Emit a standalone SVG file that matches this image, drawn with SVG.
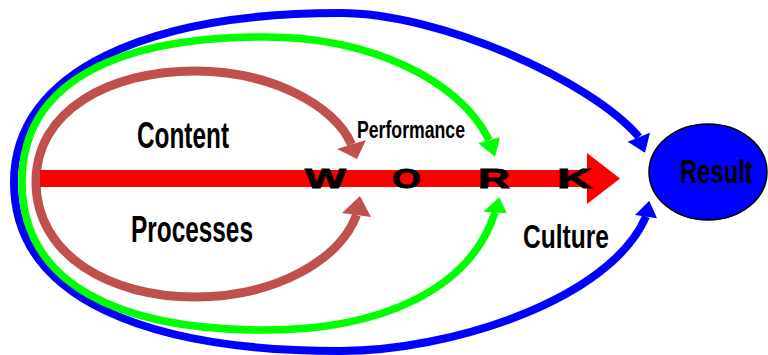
<svg xmlns="http://www.w3.org/2000/svg" width="768" height="355" viewBox="0 0 768 355">
<style>
.lbl{font-family:"Liberation Sans",Arial,sans-serif;font-weight:bold;fill:#000}
.work{font-family:"Liberation Sans",Arial,sans-serif;font-weight:900;fill:#000;stroke:#000;stroke-width:0.9;font-size:27.5px}
.loop{fill:none}
</style>
<rect width="768" height="355" fill="#fff"/>
<g id="connectors">
<path class="loop" stroke="#0000FF" stroke-width="8" d="M639,137 C590,80 440,13 340,13 C150,13 14,70 14,182 C14,300 150,351 340,351 C450,351 610,300 646,216.5"/>
<polygon fill="#0000FF" points="627.7,141.7 650,132.7 645,152.7"/>
<polygon fill="#0000FF" points="635,215 657,218.3 649.3,200.7"/>
<path class="loop" stroke="#00FF00" stroke-width="7.5" d="M489,140 C460,80 370,37 265,37 C120,37 22,80 22,182 C22,285 120,330 265,330 C380,330 470,290 495,212.5"/>
<polygon fill="#00FF00" points="478.3,143.3 500,137.3 495,156.7"/>
<polygon fill="#00FF00" points="483.3,211.7 506.7,213.3 499.3,197.3"/>
<path class="loop" stroke="#C0504D" stroke-width="9" d="M351.5,144.5 C335,105 270,71 195,71 C110,71 36,110 36,182 C36,255 110,297 195,297 C275,297 340,260 356.5,215"/>
<polygon fill="#C0504D" points="337,149 366,140 357,159"/>
<polygon fill="#C0504D" points="342,213 371,217 360,196"/>
</g>
<g id="work">
<polygon fill="#FF0000" points="40,170 587,170 587,153 620,178.5 587,204 587,187 40,187"/>
<text class="work" x="305" y="188" textLength="41" lengthAdjust="spacingAndGlyphs">W</text>
<text class="work" x="392" y="188" textLength="29" lengthAdjust="spacingAndGlyphs">O</text>
<text class="work" x="478" y="188" textLength="32" lengthAdjust="spacingAndGlyphs">R</text>
<text class="work" x="557" y="188" textLength="35" lengthAdjust="spacingAndGlyphs">K</text>
</g>
<g id="content"><text class="lbl" x="137" y="147.5" font-size="37" textLength="92" lengthAdjust="spacingAndGlyphs">Content</text></g>
<g id="processes"><text class="lbl" x="131" y="241.7" font-size="37" textLength="122" lengthAdjust="spacingAndGlyphs">Processes</text></g>
<g id="performance"><text class="lbl" x="357" y="138" font-size="23" textLength="108" lengthAdjust="spacingAndGlyphs">Performance</text></g>
<g id="culture"><text class="lbl" x="523" y="248" font-size="34" textLength="86" lengthAdjust="spacingAndGlyphs">Culture</text></g>
<g id="result">
<ellipse cx="708" cy="172" rx="59" ry="48" fill="#0000FF" stroke="#000" stroke-width="1.5"/>
<text class="lbl" transform="translate(680,183) scale(0.7,1)" x="0" y="0" font-size="34">Result</text>
</g>
</svg>
